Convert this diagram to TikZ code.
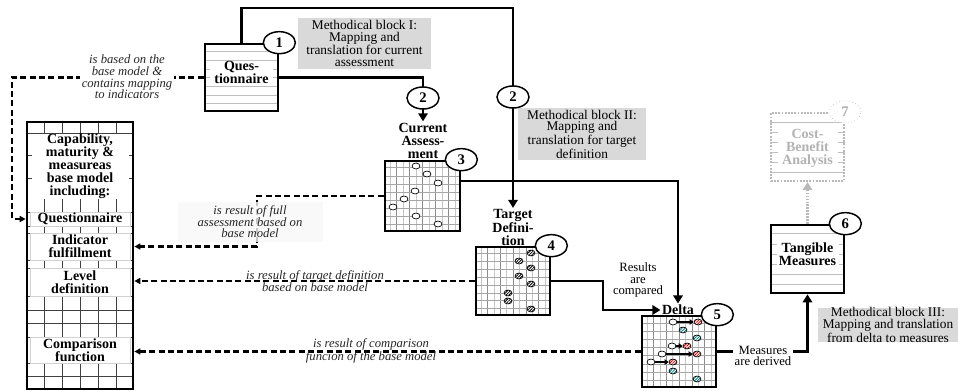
\documentclass[tikz,border=0pt]{standalone}
\usepackage{fontspec}
\setmainfont{Liberation Serif}
\usetikzlibrary{arrows.meta, calc, patterns.meta, shapes.geometric}
\tikzset{
	maturity/.is family,
	maturity/.cd,
	box/.style = {
		draw,
		line width = 2pt,
		inner sep = 0pt,
	},
	faded box/.style = {
		draw = gray!55,
		line width = 1.6pt,
		dash pattern = on 1.4pt off 1pt,
		inner sep = 0pt,
	},
	rule/.style = {
		draw = gray!50,
		line width = 0.4pt,
	},
	band/.style = {
		fill = white,
		inner sep = 0pt,
		align = center,
		font = \bfseries\fontsize{10.5}{9.75}\selectfont,
	},
	title/.style = {
		inner sep = 1pt,
		align = center,
		font = \bfseries\fontsize{10.5}{10}\selectfont,
	},
	tag/.style = {
		ellipse,
		draw,
		line width = 1.1pt,
		fill = white,
		inner sep = 0pt,
		minimum width = 24pt,
		minimum height = 16.5pt,
		font = \bfseries\fontsize{11}{11}\selectfont,
	},
	method block/.style = {
		fill = black!15,
		inner sep = 0pt,
		align = center,
		font = \fontsize{10}{8.8}\selectfont,
	},
	note/.style = {
		inner sep = 1pt,
		align = center,
		text = black!85,
		font = \itshape\fontsize{9.5}{8.7}\selectfont,
	},
	remark/.style = {
		inner sep = 1pt,
		align = center,
		font = \fontsize{9.5}{8.6}\selectfont,
	},
	flow/.style = {
		line width = 1.6pt,
		-{Triangle[length = 6pt, width = 7pt]},
	},
	relation/.style = {
		line width = 1.6pt,
		dash pattern = on 4.5pt off 2.5pt,
		-{Triangle[length = 4.5pt, width = 4.5pt]},
	},
}
\pgfdeclarelayer{background}
\pgfsetlayers{background, main}

\begin{document}
\begin{tikzpicture}[
		x = 0.75pt,
		y = -0.75pt,
		open mark/.style = {
			ellipse,
			draw,
			line width = 0.5pt,
			fill = white,
			inner sep = 0pt,
			minimum width = 6pt,
			minimum height = 4.4pt
		},
		hatched mark/.style = {
			open mark,
			preaction = {fill = white},
			pattern = {Lines[angle = 45, distance = 1.5pt, line width = 0.6pt]},
			pattern color = #1
		},
		hatched mark/.default = black,
		shift arrow/.style = {
			line width = 1.5pt,
			-{Triangle[length = 3pt, width = 4pt]}
		}]
	\def\pxu{0.75pt}
	\useasboundingbox (0, 0) rectangle (958, 391);
	% boxes
	\node[maturity/box, minimum width = 106*\pxu, minimum height = 267*\pxu] (model) at (80, 255.5) {};
	\node[maturity/box, minimum width = 73*\pxu, minimum height = 67*\pxu] (quest) at (241.5, 77.5) {};
	\node[maturity/box, minimum width = 75*\pxu, minimum height = 70*\pxu] (cur) at (422.5, 196) {};
	\node[maturity/box, minimum width = 74*\pxu, minimum height = 68*\pxu] (tgt) at (513, 281) {};
	\node[maturity/box, minimum width = 74*\pxu, minimum height = 71*\pxu] (delta) at (679, 351.5) {};
	\node[maturity/box, minimum width = 73*\pxu, minimum height = 68*\pxu] (tangible) at (807.5, 259) {};
	\node[maturity/faded box, minimum width = 73*\pxu, minimum height = 68*\pxu] (cost) at (807.5, 147) {};
	\node[maturity/method block, minimum width = 133*\pxu, minimum height = 51*\pxu] (block-1) at (364.5, 43.5) {Methodical block I:\\Mapping and\\translation for current\\assessment};
	\node[maturity/method block, minimum width = 128*\pxu, minimum height = 52*\pxu] (block-2) at (582, 134) {Methodical block II:\\Mapping and\\translation for target\\definition};
	\node[maturity/method block, minimum width = 140*\pxu, minimum height = 34*\pxu] (block-3) at (888, 325) {Methodical block III:\\Mapping and translation\\from delta to measures};
	\begin{pgfonlayer}{background}
		\foreach \f in {1, ..., 5} {
			\draw[maturity/rule, draw = black!75] ($(model.north west)!\f/6!(model.north east)$) -- ($(model.south west)!\f/6!(model.south east)$);
		}
		\foreach \gy in {133, 155, 178, 212, 226, 233, 260, 268, 296, 310, 323, 337, 363, 376} {
			\draw[maturity/rule, draw = black!75] (model.west |- 0, \gy) -- (model.east |- 0, \gy);
		}
		\foreach \boxname/\parts in {quest/8, tangible/7, cost/7} {
			\foreach \f [parse = true] in {1, ..., \parts - 1} {
				\draw[maturity/rule] ($(\boxname.north west)!\f/\parts!(\boxname.south west)$) -- ($(\boxname.north east)!\f/\parts!(\boxname.south east)$);
			}
		}
		\foreach \boxname in {cur, tgt, delta} {
			\foreach \f in {1, ..., 11} {
				\draw[maturity/rule, draw = gray!45] ($(\boxname.north west)!\f/12!(\boxname.north east)$) -- ($(\boxname.south west)!\f/12!(\boxname.south east)$);
			}
			\foreach \f in {2, 4, ..., 10} {
				\draw[maturity/rule, draw = gray!90] ($(\boxname.north west)!\f/12!(\boxname.north east)$) -- ($(\boxname.south west)!\f/12!(\boxname.south east)$);
			}
			\foreach \f in {1, ..., 8} {
				\draw[maturity/rule, draw = gray!70] ($(\boxname.north west)!\f/9!(\boxname.south west)$) -- ($(\boxname.north east)!\f/9!(\boxname.south east)$);
			}
		}
	\end{pgfonlayer}
	% texts inside the boxes
	\node[maturity/band, minimum width = 97*\pxu, minimum height = 64*\pxu] (model-head) at (80, 166.5) {Capability,\\maturity \&\\measureas\\base model\\including:};
	\node[maturity/band, draw = gray!35, line width = 0.4pt, minimum width = 100*\pxu, minimum height = 14*\pxu] (model-quest) at (80, 219) {Questionnaire};
	\node[maturity/band, draw = gray!35, line width = 0.4pt, minimum width = 100*\pxu, minimum height = 27*\pxu] (model-ind) at (80, 246.5) {Indicator\\fulfillment};
	\node[maturity/band, draw = gray!35, line width = 0.4pt, minimum width = 100*\pxu, minimum height = 28*\pxu] (model-level) at (80, 282) {Level\\definition};
	\node[maturity/band, draw = gray!35, line width = 0.4pt, minimum width = 100*\pxu, minimum height = 26*\pxu] (model-comp) at (80, 350) {Comparison\\function};
	\node[maturity/band, minimum width = 63*\pxu] (quest-text) at (241.5, 72.5) {Ques-\\tionnaire};
	\node[maturity/band, minimum width = 62*\pxu] (tangible-text) at (807.5, 254) {Tangible\\Measures};
	\node[maturity/band, minimum width = 60*\pxu, text = gray!60] (cost-text) at (807.5, 148) {Cost-\\Benefit\\Analysis};
	\node[maturity/title] (cur-title) at (423, 141) {Current\\Assess-\\ment};
	\node[maturity/title] (tgt-title) at (513, 227.5) {Target\\Defini-\\tion};
	\node[maturity/title] (delta-title) at (678, 310) {Delta};
	% marks in the grids
	\foreach \mx/\my [count = \k] in {416/166, 427/174, 438/183, 415/191, 404/199, 393/207, 416/216, 438/224} {
		\node[open mark] (cur-mark-\k) at (\mx, \my) {};
	}
	\foreach \mx/\my [count = \k] in {531/253, 519/261, 531/268, 519/276, 531/284, 508/293, 508/301, 531/309} {
		\node[hatched mark] (tgt-mark-\k) at (\mx, \my) {};
	}
	\foreach \ox/\rx/\my [count = \k] in {673/698/322, 672/687/346, 662/697/354, 651/673/362} {
		\node[open mark] (delta-open-\k) at (\ox, \my) {};
		\node[hatched mark = red!85!black] (delta-gap-\k) at (\rx, \my) {};
		\draw[shift arrow] (delta-open-\k) -- (delta-gap-\k);
	}
	\foreach \mx/\my [count = \k] in {683/330, 697/338, 673/371, 697/379} {
		\node[hatched mark = teal] (delta-met-\k) at (\mx, \my) {};
	}
	% connectors
	\coordinate (rail) at (12, 0);
	\draw[maturity/relation] (quest.west) -- (quest.west -| rail) |- (model.west |- model-quest);
	\draw[maturity/flow] (quest.north) -- ++(0, -35) -| (tgt-title.north);
	\draw[maturity/flow] (quest.east) -| (cur-title.north);
	\draw[maturity/flow] ($(cur.north east)!0.29!(cur.south east)$) -| (delta-title.north);
	\draw[maturity/flow] (tgt.east) -- ++(52, 0) |- (delta-title.west);
	\draw[maturity/relation] (cur.west) -- ++(-127, 0) |- (model.east |- model-ind);
	\draw[maturity/relation] (tgt.west) -- (tgt.west -| model.east);
	\draw[maturity/relation] (delta.west) -- (delta.west -| model.east);
	\draw[maturity/flow] (delta.east) -| (tangible.south);
	\draw[maturity/flow, draw = gray!55, dash pattern = on 1.2pt off 1pt] (tangible.north) -- (cost.south);
	% labels
	\node[maturity/note, fill = white] (note-base) at (127, 77) {is based on the\\base model \&\\contains mapping\\to indicators};
	\node[maturity/note, fill = black!3, fill opacity = 0.8, text opacity = 1, minimum width = 145*\pxu, minimum height = 40*\pxu] (note-full) at (250, 222) {is result of full\\assessment based on\\base model};
	\node[maturity/note] (note-target) at (315, 281) {is result of target definition\\based on base model};
	\node[maturity/note] (note-comp) at (371, 350.5) {is result of comparison\\funcion of the base model};
	\node[maturity/remark] (results) at (638, 280) {Results\\are\\compared};
	\node[maturity/remark, fill = white] (derived) at (763, 356) {Measures\\are derived};
	\node[maturity/tag] (tag-1) at (quest.north east) {1};
	\node[maturity/tag] (tag-2a) at (cur-title.north |- 0, 98) {2};
	\node[maturity/tag] (tag-2b) at (tgt-title.north |- 0, 97) {2};
	\node[maturity/tag] (tag-3) at (cur.north east) {3};
	\node[maturity/tag] (tag-4) at (tgt.north east) {4};
	\node[maturity/tag] (tag-5) at (delta.north east) {5};
	\node[maturity/tag] (tag-6) at (tangible.north east) {6};
	\node[maturity/tag, draw = gray!50, line width = 0.5pt, dotted, text = gray!60] (tag-7) at (cost.north east) {7};
\end{tikzpicture}
\end{document}
